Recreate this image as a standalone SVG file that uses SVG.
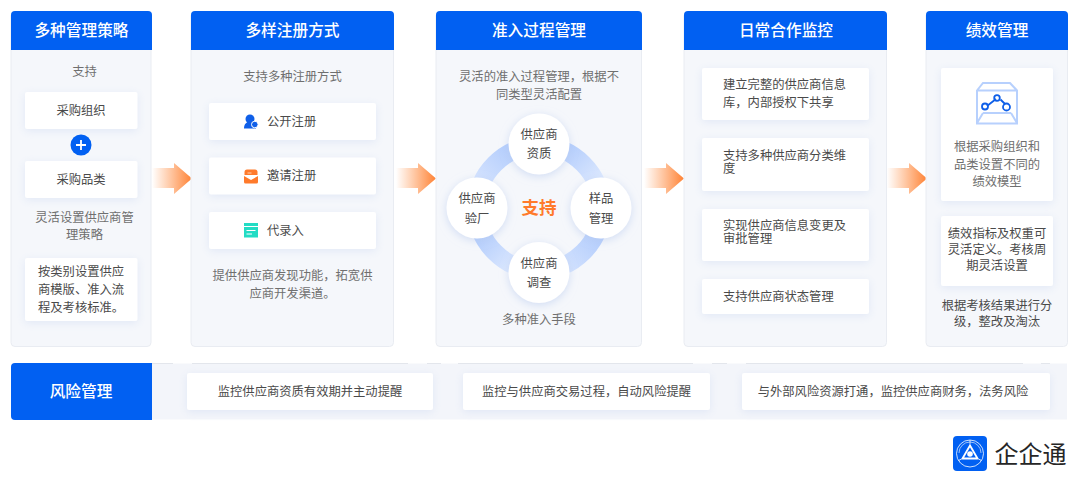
<svg xmlns="http://www.w3.org/2000/svg" width="1080" height="484" viewBox="0 0 1080 484">
<style>
text{font-family:"Noto Sans CJK SC","Noto Sans",sans-serif;font-size:12.300px;fill:#4a4a4a;text-anchor:middle}
.h{font-size:15.700px;font-weight:500;fill:#fff}
.g{fill:#6f6f6f}
.l{text-anchor:start}
.panel{fill:#f5f7fb;stroke:#e9ecf2;stroke-width:1}
.head{fill:#0160f2}
.card{fill:#fff;filter:url(#sh)}
.circ{fill:#fff;filter:url(#sh2)}
.arc{fill:none;stroke-width:18}
</style>
<defs>
<filter id="sh" x="-15%" y="-40%" width="130%" height="190%"><feDropShadow dx="0" dy="2" stdDeviation="4" flood-color="#c9d6f0" flood-opacity=".45"/></filter>
<filter id="sh2" x="-30%" y="-30%" width="160%" height="160%"><feDropShadow dx="0" dy="2" stdDeviation="4" flood-color="#b9cbee" flood-opacity=".6"/></filter>
<linearGradient id="arr" x1="0" x2="1" y1="0" y2="0"><stop offset="0" stop-color="#ff8a3c" stop-opacity="0"/><stop offset="1" stop-color="#ff8234"/></linearGradient>
<linearGradient id="tr" gradientUnits="userSpaceOnUse" x1="565" y1="148" x2="598" y2="182"><stop offset="0" stop-color="#b2ccfc"/><stop offset="1" stop-color="#dce8fe"/></linearGradient>
<linearGradient id="tl" gradientUnits="userSpaceOnUse" x1="513" y1="148" x2="480" y2="182"><stop offset="0" stop-color="#b2ccfc"/><stop offset="1" stop-color="#d3e2fe"/></linearGradient>
<linearGradient id="br" gradientUnits="userSpaceOnUse" x1="598" y1="234" x2="565" y2="268"><stop offset="0" stop-color="#b2ccfc"/><stop offset="1" stop-color="#d3e2fe"/></linearGradient>
<linearGradient id="bl" gradientUnits="userSpaceOnUse" x1="480" y1="234" x2="513" y2="268"><stop offset="0" stop-color="#b2ccfc"/><stop offset="1" stop-color="#dce8fe"/></linearGradient>
<path id="a" d="M0 5H22V0L40 15.500 22 31V25H0Z" fill="url(#arr)"/>
</defs>

<g id="connectors">
<use href="#a" x="152" y="163"/>
<use href="#a" x="396" y="163"/>
<use href="#a" x="644" y="163"/>
<use href="#a" x="887" y="163"/>
</g>

<g id="col1">
<rect class="panel" x="11" y="12" width="140" height="334.500" rx="4"/>
<path class="head" d="M11 50V15a4 4 0 0 1 4-4H148a4 4 0 0 1 4 4V50Z"/>
<text class="h" x="81.500" y="36">多种管理策略</text>
<text class="g" x="84.500" y="75.500">支持</text>
<rect class="card" x="25" y="92" width="112.500" height="37" rx="2"/>
<text x="81" y="115">采购组织</text>
<circle cx="81" cy="145" r="10.500" fill="#0160f2"/>
<path d="M81 140V150M76 145H86" stroke="#fff" stroke-width="1.800" fill="none"/>
<rect class="card" x="25" y="161" width="112.500" height="37" rx="2"/>
<text x="81" y="184">采购品类</text>
<text class="g" x="84.500" y="221.500">灵活设置供应商管</text>
<text class="g" x="84.500" y="239">理策略</text>
<rect class="card" x="25" y="258" width="112.500" height="63" rx="2"/>
<text class="l" x="38" y="276">按类别设置供应</text>
<text class="l" x="38" y="294">商模版、准入流</text>
<text class="l" x="38" y="311.500">程及考核标准。</text>
</g>

<g id="col2">
<rect class="panel" x="191" y="12" width="202.500" height="334.500" rx="4"/>
<path class="head" d="M191 50V15a4 4 0 0 1 4-4H390a4 4 0 0 1 4 4V50Z"/>
<text class="h" x="292.500" y="36">多样注册方式</text>
<text class="g" x="292.500" y="81">支持多种注册方式</text>
<rect class="card" x="209" y="103" width="167" height="37" rx="2"/>
<g id="icon-public">
<circle cx="250" cy="119" r="4.500" fill="#0f5fe8"/>
<path d="M244 128.500c0-5 2.500-6.500 6-6.500s6 2 6 6.500Z" fill="#0f5fe8"/>
<circle cx="254.800" cy="124.500" r="3.300" fill="#0f5fe8" stroke="#fff"/>
</g>
<text class="l" x="267" y="125.500">公开注册</text>
<rect class="card" x="209" y="157.500" width="167" height="37" rx="2"/>
<g id="icon-invite">
<path d="M247 169.500h8a2.500 2.500 0 0 1 2.500 2.500v3h-13v-3a2.500 2.500 0 0 1 2.500-2.500Z" fill="#ff7a2b"/>
<path d="M244 176l7 4 7-4v6a1.500 1.500 0 0 1-1.500 1.500h-11a1.500 1.500 0 0 1-1.500-1.500Z" fill="#ff7a2b"/>
<path d="M247.500 173h4" stroke="#ffd0ae" stroke-width="1"/>
</g>
<text class="l" x="267" y="180">邀请注册</text>
<rect class="card" x="209" y="212" width="167" height="37" rx="2"/>
<g id="icon-proxy">
<rect x="244" y="223" width="14" height="14.500" fill="#22dcc4"/>
<path d="M244 226.500H258M246.500 230.500H255.500M246.500 234H252" stroke="#fff" stroke-width="1" fill="none"/>
</g>
<text class="l" x="267" y="234.500">代录入</text>
<text class="g" x="292.500" y="280">提供供应商发现功能，拓宽供</text>
<text class="g" x="292.500" y="297.500">应商开发渠道。</text>
</g>

<g id="col3">
<rect class="panel" x="436" y="12" width="205.500" height="334.500" rx="4"/>
<path class="head" d="M436 50V15a4 4 0 0 1 4-4H638a4 4 0 0 1 4 4V50Z"/>
<text class="h" x="539" y="36">准入过程管理</text>
<text class="g" x="539" y="81">灵活的准入过程管理，根据不</text>
<text class="g" x="539" y="98.500">同类型灵活配置</text>
<path class="arc" stroke="url(#tr)" d="M539 145.500A62.500 62.500 0 0 1 601.500 208"/>
<path class="arc" stroke="url(#br)" d="M601.500 208A62.500 62.500 0 0 1 539 270.500"/>
<path class="arc" stroke="url(#bl)" d="M539 270.500A62.500 62.500 0 0 1 476.500 208"/>
<path class="arc" stroke="url(#tl)" d="M476.500 208A62.500 62.500 0 0 1 539 145.500"/>
<g id="n-qual"><circle class="circ" cx="539" cy="144" r="30.500"/><text x="539" y="139">供应商</text><text x="539" y="158">资质</text></g>
<g id="n-sample"><circle class="circ" cx="601" cy="208" r="30.500"/><text x="601" y="203">样品</text><text x="601" y="222.500">管理</text></g>
<g id="n-survey"><circle class="circ" cx="539" cy="272.500" r="30.500"/><text x="539" y="267.500">供应商</text><text x="539" y="287">调查</text></g>
<g id="n-audit"><circle class="circ" cx="477" cy="208" r="30.500"/><text x="477" y="203">供应商</text><text x="477" y="222.500">验厂</text></g>
<text x="539" y="214" style="font-size:17.500px;font-weight:700;fill:#ff7a2b">支持</text>
<text class="g" x="539" y="324">多种准入手段</text>
</g>

<g id="col4">
<rect class="panel" x="684" y="12" width="202.500" height="334.500" rx="4"/>
<path class="head" d="M684 50V15a4 4 0 0 1 4-4H883a4 4 0 0 1 4 4V50Z"/>
<text class="h" x="786" y="36">日常合作监控</text>
<rect class="card" x="702" y="68" width="167" height="52" rx="2"/>
<text class="l" x="723" y="89">建立完整的供应商信息</text>
<text class="l" x="723" y="107">库，内部授权下共享</text>
<rect class="card" x="702" y="138" width="167" height="53" rx="2"/>
<text class="l" x="723" y="160">支持多种供应商分类维<tspan x="723" dy="12.500">度</tspan></text>
<rect class="card" x="702" y="209" width="167" height="52" rx="2"/>
<text class="l" x="723" y="230">实现供应商信息变更及<tspan x="723" dy="12.500">审批管理</tspan></text>
<rect class="card" x="702" y="279" width="167" height="35" rx="2"/>
<text class="l" x="723" y="301">支持供应商状态管理</text>
</g>

<g id="col5">
<rect class="panel" x="926" y="12" width="141.500" height="334.500" rx="4"/>
<path class="head" d="M926 50V15a4 4 0 0 1 4-4H1064a4 4 0 0 1 4 4V50Z"/>
<text class="h" x="997" y="36">绩效管理</text>
<rect class="card" x="941" y="68" width="112" height="133" rx="2"/>
<g id="icon-model" fill="none">
<path d="M977 123.500V90.500L983 83H1010L1017 90.500V123.500ZM977 90.500H1017M983 113H1011M983 113L977 123M1011 113L1017 123" stroke="#b7d0fd" stroke-width="2"/>
<path d="M987 106L996 99M1000.500 99.500L1005 104" stroke="#0f5fe8" stroke-width="1.800"/>
<circle cx="985" cy="106.500" r="3" stroke="#0f5fe8" stroke-width="1.800"/>
<circle cx="997" cy="98" r="2.800" stroke="#0f5fe8" stroke-width="1.800"/>
<circle cx="1006.500" cy="107" r="3.500" stroke="#0f5fe8" stroke-width="1.800"/>
</g>
<text class="g" x="997" y="151">根据采购组织和</text>
<text class="g" x="997" y="169">品类设置不同的</text>
<text class="g" x="997" y="186">绩效模型</text>
<rect class="card" x="941" y="216" width="112" height="70" rx="2"/>
<text x="997" y="238">绩效指标及权重可</text>
<text x="997" y="254">灵活定义。考核周</text>
<text x="997" y="270">期灵活设置</text>
<text x="997" y="310">根据考核结果进行分</text>
<text x="997" y="326">级，整改及淘汰</text>
</g>

<g id="risk">
<rect x="150" y="363.500" width="917" height="56" fill="#f3f5fa"/>
<path d="M152 363.500H173M192 363.500H408M427 363.500H441M458 363.500H693M712 363.500H727M746 363.500H1023M1041 363.500H1050" stroke="#e3e6ec" stroke-width="1" fill="none"/>
<path d="M11 367a4 4 0 0 1 4-4H152V420H15a4 4 0 0 1-4-4Z" fill="#0160f2"/>
<text class="h" x="81" y="397">风险管理</text>
<rect class="card" x="187" y="373" width="246" height="37" rx="2"/>
<text x="310" y="396">监控供应商资质有效期并主动提醒</text>
<rect class="card" x="463" y="373" width="247" height="37" rx="2"/>
<text x="586.500" y="396">监控与供应商交易过程，自动风险提醒</text>
<rect class="card" x="742" y="373" width="308" height="37" rx="2"/>
<text x="893" y="396">与外部风险资源打通，监控供应商财务，法务风险</text>
</g>

<g id="logo">
<rect x="953" y="436" width="34" height="35" rx="4" fill="#0160f2"/>
<g fill="none" stroke="#fff">
<circle cx="970" cy="453.500" r="13.500" stroke-width=".8"/>
<path d="M970 445.500L977.500 458.500H962.500Z" stroke-width="1.800" stroke-linejoin="round"/>
<circle cx="970" cy="454" r="2.800" fill="#fff" stroke="none"/>
<path d="M970 440V445M958.500 460.500L962.500 458.500M981.500 460.500L977.500 458.500" stroke-width=".8"/>
<path d="M959 453a11 11 0 0 1 22 0" stroke-width=".6"/>
</g>
<text x="1030.500" y="463" style="font-size:24px;fill:#262626">企企通</text>
</g>
</svg>
